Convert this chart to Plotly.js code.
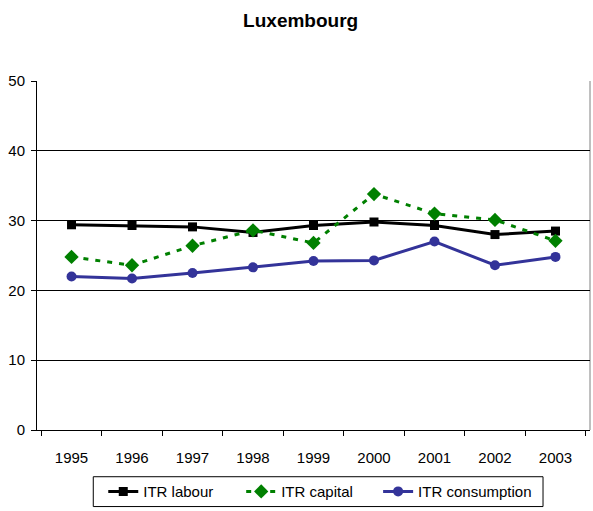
<!DOCTYPE html>
<html><head><meta charset="utf-8">
<script src="https://cdn.plot.ly/plotly-3.0.1.min.js"></script>
<style>html,body{margin:0;padding:0;background:#fff}#chart{width:593px;height:511px}</style>
</head><body><div id="chart"></div>
<script>
const years = ['1995','1996','1997','1998','1999','2000','2001','2002','2003'];
const itrLabour = [29.4, 29.3, 29.1, 28.3, 29.3, 29.8, 29.3, 28.0, 28.5];
const itrCapital = [24.8, 23.6, 26.4, 28.6, 26.8, 33.8, 31.0, 30.1, 27.1];
const itrConsumption = [22.0, 21.7, 22.5, 23.3, 24.2, 24.3, 27.0, 23.6, 24.8];
const yTicks = [0, 10, 20, 30, 40, 50];

const font = '"Liberation Sans", Arial, sans-serif';
const traces = [
  {x: years, y: itrLabour, name: 'ITR labour', type: 'scatter', mode: 'lines+markers', legend: 'legend',
   line: {color: '#000000', width: 3}, marker: {symbol: 'square', size: 9, color: '#000000'}},
  {x: years, y: itrCapital, name: 'ITR capital', type: 'scatter', mode: 'lines+markers', legend: 'legend2',
   line: {color: '#008000', width: 3, dash: '5px,7px'}, marker: {symbol: 'diamond', size: 11, color: '#008000'}},
  {x: years, y: itrConsumption, name: 'ITR consumption', type: 'scatter', mode: 'lines+markers', legend: 'legend3',
   line: {color: '#333399', width: 3}, marker: {symbol: 'circle', size: 10, color: '#333399'}}
];
const PL = 36.7, PW = 553.3;
function legendAt(px) {
  return {orientation: 'h', x: (px - 7 - PL) / PW, xanchor: 'left', y: -0.1766, yanchor: 'middle',
          borderwidth: 0, bgcolor: 'rgba(0,0,0,0)',
          font: {family: font, size: 15, color: '#000'}, itemwidth: 30};
}
const layout = {
  width: 593, height: 511,
  margin: {l: PL, r: 3, t: 81, b: 79, pad: 0},
  paper_bgcolor: '#ffffff', plot_bgcolor: '#ffffff',
  font: {family: font, size: 15, color: '#000'},
  showlegend: true,
  title: {text: '<b>Luxembourg</b>', font: {family: font, size: 19, color: '#000'},
          xref: 'container', x: 0.507, xanchor: 'center', yref: 'container', y: 0.96, yanchor: 'middle'},
  xaxis: {type: 'category', categoryorder: 'array', categoryarray: years,
          tickson: 'boundaries', ticks: 'outside', ticklen: 5, tickcolor: '#000', tickwidth: 1,
          showline: true, linecolor: '#000', linewidth: 1, showgrid: false, zeroline: false,
          ticklabelstandoff: 14, tickfont: {family: font, size: 15, color: '#000'}, fixedrange: true},
  yaxis: {range: [0, 50], tickvals: yTicks, ticks: 'outside', ticklen: 5, tickcolor: '#000',
          showline: true, linecolor: '#000', linewidth: 1, showgrid: true, gridcolor: '#000', gridwidth: 1,
          zeroline: false, ticklabelstandoff: 3, tickfont: {family: font, size: 15, color: '#000'}, fixedrange: true},
  shapes: [
    {type: 'line', xref: 'paper', yref: 'paper', x0: 1, x1: 1, y0: 0, y1: 1, line: {color: '#808080', width: 1}, layer: 'below'},
    {type: 'rect', xref: 'paper', yref: 'paper', x0: (93 - PL) / PW, x1: (543 - PL) / PW,
     y0: -(509 - 432) / 351, y1: -(479 - 432) / 351, line: {color: '#000', width: 1}, fillcolor: 'rgba(0,0,0,0)', layer: 'above'}
  ],
  legend: legendAt(110),
  legend2: legendAt(248),
  legend3: legendAt(385)
};
Plotly.newPlot('chart', traces, layout, {displayModeBar: false, staticPlot: true});
</script></body></html>
